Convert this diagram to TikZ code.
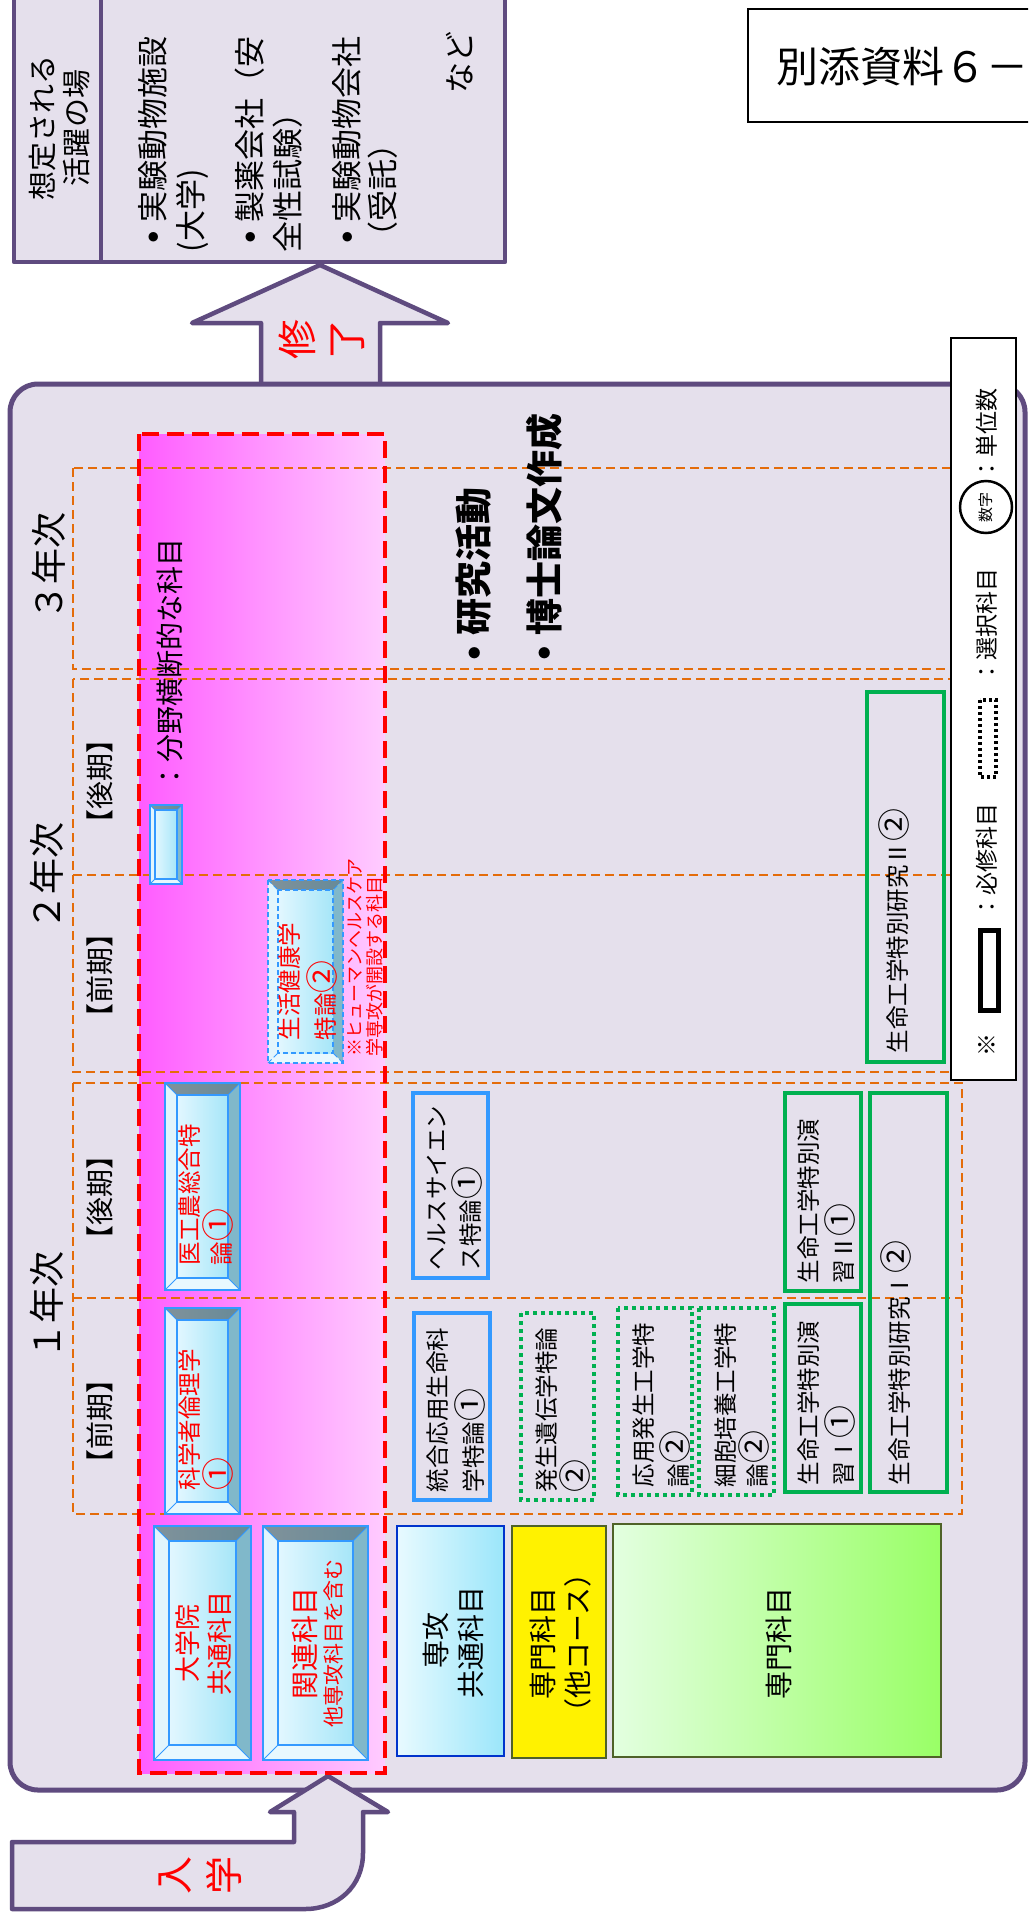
\documentclass[tikz,border=0pt]{standalone}
\usepackage{fontspec}
\setmainfont{Noto Sans CJK JP}
\definecolor{purp}{HTML}{5F4B7F}
\definecolor{lav}{HTML}{E5E0EC}
\definecolor{orng}{HTML}{E46C0A}
\definecolor{skyb}{HTML}{3399FF}
\definecolor{grn}{HTML}{00B050}
\definecolor{pinkL}{HTML}{FF5CFF}
\definecolor{pinkR}{HTML}{FFCCFF}
\definecolor{bvTopA}{HTML}{80929A}
\definecolor{bvTopB}{HTML}{678A98}
\definecolor{bvR}{HTML}{80B8CA}
\definecolor{bvL}{HTML}{E2F5FC}
\definecolor{bvBot}{HTML}{E8F8FE}
\definecolor{bvInA}{HTML}{E2F7FF}
\definecolor{bvInB}{HTML}{A6E6F8}
\definecolor{cOlive}{HTML}{4F6228}
\definecolor{dblue}{HTML}{0033CC}
\definecolor{scL}{HTML}{E8FAFF}
\definecolor{scR}{HTML}{9BE6FA}
\definecolor{gL}{HTML}{E3FFE0}
\definecolor{gM}{HTML}{A0FFA0}
\definecolor{gR}{HTML}{99FF66}
\newcommand{\fs}[1]{\fontsize{#1pt}{#1pt}\selectfont}
\newcommand{\cn}[1]{\scalebox{1.4}{#1}}
\newcommand{\bul}{\makebox[1em]{\raisebox{0.24em}{\scalebox{0.34}{●}}}}
\newcommand{\bevelbox}[6]{%
  \fill[bvL] (#1,#2) rectangle (#3,#4);
  \shade[left color=bvTopA, right color=bvTopB] (#1,#2) -- (#3,#2) -- ({#3-#5},{#2+#5}) -- ({#1+#5},{#2+#5}) -- cycle;
  \fill[bvR] (#3,#2) -- (#3,#4) -- ({#3-#5},{#4-#5}) -- ({#3-#5},{#2+#5}) -- cycle;
  \fill[bvBot] (#1,#4) -- (#3,#4) -- ({#3-#5},{#4-#5}) -- ({#1+#5},{#4-#5}) -- cycle;
  \shade[left color=bvInA, right color=bvInB] ({#1+#5},{#2+#5}) rectangle ({#3-#5},{#4-#5});
  \draw[#6] (#1,#2) rectangle (#3,#4);
  \draw[#6] ({#1+#5},{#2+#5}) rectangle ({#3-#5},{#4-#5});
  \draw[#6, line width=1pt] (#1,#2) -- ({#1+#5},{#2+#5}) (#3,#2) -- ({#3-#5},{#2+#5}) (#1,#4) -- ({#1+#5},{#4-#5}) (#3,#4) -- ({#3-#5},{#4-#5});
}
\tikzset{
  rt/.style={rotate=90, inner sep=0pt, outer sep=0pt},
  lft/.style={rt, anchor=west},
  cen/.style={rt, anchor=center},
  purpline/.style={draw=purp, line width=4.5pt, line join=round},
  orbox/.style={draw=orng, line width=2.2pt, dash pattern=on 9pt off 5pt},
  reqbox/.style={draw=skyb, line width=3.5pt},
  gdot/.style={draw=grn, line width=4pt, dash pattern=on 4pt off 4pt},
  gsol/.style={draw=grn, line width=3.5pt},
  bvborder/.style={draw=skyb, line width=2.5pt},
  bvdash/.style={draw=skyb, line width=1.5pt, dash pattern=on 5pt off 3pt},
  subj/.style={font=\fs{23.5}},
  redsubj/.style={font=\fs{23.5}, text=red},
}
\begin{document}
\begin{tikzpicture}[x=1pt,y=-1pt]
\useasboundingbox (0,0) rectangle (1028,1916);
\clip (0,0) rectangle (1028,1916);
\fill[white] (0,0) rectangle (1028,1916);

% ---- top-left box
\draw[purpline, fill=lav] (14,-10) rectangle (505,262);
\draw[purpline] (101,-10) -- (101,262);
\node[cen, font=\fs{29}] (place1) at (43,128) {想定される};
\node[cen, font=\fs{29}] (place2) at (77,128) {活躍の場};
\node[lft, font=\fs{31}] (it1a) at (153,253) {\bul 実験動物施設};
\node[lft, font=\fs{31}] (it1b) at (192,252) {(大学)};
\node[lft, font=\fs{31}] (it2a) at (250,253) {\bul 製薬会社（安};
\node[lft, font=\fs{31}] (it2b) at (288,252) {全性試験）};
\node[lft, font=\fs{31}] (it3a) at (347,253) {\bul 実験動物会社};
\node[lft, font=\fs{31}] (it3b) at (383,252) {（受託）};
\node[rt, anchor=east, font=\fs{31}] (nado) at (460,32) {など};

% ---- title
\draw[black, line width=1.5pt, fill=white] (748,9) rectangle (1040,122);
\node[anchor=west, inner sep=0pt, font=\fs{42}] (title) at (776,67) {別添資料６－};

% ---- completion arrow
\draw[purpline, fill=lav] (261,392) -- (261,323) -- (192,323) -- (320,265) -- (448,323) -- (380,323) -- (380,392);
\node[cen, font=\fs{40}, text=red] (shu1) at (297,339) {修};
\node[cen, font=\fs{40}, text=red] (shu2) at (348,339) {了};

% ---- main box
\draw[draw=purp, line width=5pt, fill=lav, rounded corners=28pt] (10,384) rectangle (1025,1790);

% ---- entrance arrow
\draw[purpline, fill=lav] (12,1842) -- (294,1842) -- (294,1812) -- (270,1812) -- (328,1776) -- (388,1812) -- (363,1812) -- (363,1853) .. controls (363,1886) and (338,1909) .. (305,1909) -- (12,1909) -- cycle;
\node[cen, font=\fs{38}, text=red] (nyu1) at (175,1875) {入};
\node[cen, font=\fs{38}, text=red] (nyu2) at (224,1875) {学};

% ---- pink cross-field area
\shade[left color=pinkL, right color=pinkR] (139,434) rectangle (385,1773);

% ---- year boxes
\draw[orbox] (73,468) rectangle (962,669);
\draw[orbox] (73,679) rectangle (962,1072);
\draw[orbox] (73,875) -- (962,875);
\draw[orbox] (73,1083) rectangle (962,1514);
\draw[orbox] (73,1298) -- (962,1298);

% ---- red dashed border
\draw[red, line width=4.5pt, dash pattern=on 17pt off 8pt] (139,434) rectangle (385,1773);

% ---- year / semester labels
\node[cen, font=\fs{36}] (y3) at (49,566) {３年次};
\node[cen, font=\fs{36}] (y2) at (47,876) {２年次};
\node[cen, font=\fs{36}] (y1) at (47,1305) {１年次};
\node[cen, font=\fs{28}] (s2b) at (100,781) {【後期】};
\node[cen, font=\fs{28}] (s2a) at (100,975) {【前期】};
\node[cen, font=\fs{28}] (s1b) at (100,1197) {【後期】};
\node[cen, font=\fs{28}] (s1a) at (100,1421) {【前期】};

% ---- cross-field legend
\bevelbox{150}{805}{182}{884}{5}{draw=skyb, line width=1.5pt}
\node[lft, font=\fs{28}] (bunya) at (170,790) {：分野横断的な科目};

% ---- bevel subject boxes
\bevelbox{165}{1308}{240}{1514}{12}{bvborder}
\node[lft, redsubj] (kagaku1) at (190,1490) {科学者倫理学};
\node[lft, redsubj] (kagaku2) at (218,1490) {\cn{①}};

\bevelbox{165}{1083}{240}{1290}{12}{bvborder}
\node[lft, redsubj] (ikou1) at (190,1265) {医工農総合特};
\node[lft, redsubj] (ikou2) at (218,1265) {論\cn{①}};

\bevelbox{154}{1526}{251}{1760}{15}{bvborder}
\node[cen, font=\fs{26}, text=red] (daigaku1) at (188,1643) {大学院};
\node[cen, font=\fs{26}, text=red] (daigaku2) at (220,1643) {共通科目};

\bevelbox{263}{1526}{368}{1760}{15}{bvborder}
\node[cen, font=\fs{28}, text=red] (kanren1) at (305,1643) {関連科目};
\node[cen, font=\fs{21}, text=red] (kanren2) at (334,1643) {他専攻科目を含む};

\bevelbox{268}{880}{343}{1063}{10}{bvdash}
\node[lft, redsubj] (seikatsu1) at (290,1040) {生活健康学};
\node[lft, redsubj] (seikatsu2) at (322,1040) {特論\cn{②}};
\node[lft, font=\fs{18}, text=red] (note1) at (355,1056) {※ヒューマンヘルスケア};
\node[lft, font=\fs{18}, text=red] (note2) at (375,1056) {学専攻が開設する科目};

% ---- research activity
\node[lft, font=\fs{37}\bfseries] (res1) at (474,672) {\bul 研究活動};
\node[lft, font=\fs{37}\bfseries] (res2) at (544,672) {\bul 博士論文作成};

% ---- required (blue) boxes
\draw[reqbox] (414,1313) rectangle (490,1500);
\node[lft, subj] (tougou1) at (438,1492) {統合応用生命科};
\node[lft, subj] (tougou2) at (470,1492) {学特論\cn{①}};
\draw[reqbox] (413,1093) rectangle (488,1278);
\node[lft, subj] (health1) at (437,1270) {ヘルスサイエン};
\node[lft, subj] (health2) at (467,1270) {ス特論\cn{①}};

% ---- elective (green dotted) boxes
\draw[gdot] (521,1313) rectangle (594,1500);
\node[lft, subj] (hassei1) at (547,1492) {発生遺伝学特論};
\node[lft, subj] (hassei2) at (575,1492) {\cn{②}};
\draw[gdot] (618,1308) rectangle (692,1495);
\node[lft, subj] (ouyou1) at (644,1487) {応用発生工学特};
\node[lft, subj] (ouyou2) at (675,1487) {論\cn{②}};
\draw[gdot] (699,1308) rectangle (774,1495);
\node[lft, subj] (saibou1) at (726,1487) {細胞培養工学特};
\node[lft, subj] (saibou2) at (754,1487) {論\cn{②}};

% ---- green solid boxes
\draw[gsol] (785,1304) rectangle (861,1492);
\node[lft, subj] (enshu1a) at (809,1485) {生命工学特別演};
\node[lft, subj] (enshu1b) at (840,1485) {習Ⅰ\cn{①}};
\draw[gsol] (785,1093) rectangle (861,1291);
\node[lft, subj] (enshu2a) at (809,1283) {生命工学特別演};
\node[lft, subj] (enshu2b) at (840,1283) {習Ⅱ\cn{①}};
\draw[gsol] (870,1093) rectangle (947,1492);
\node[lft, subj] (kenkyu1) at (896,1485) {生命工学特別研究Ⅰ\cn{②}};
\draw[gsol] (867,692) rectangle (944,1062);
\node[lft, subj] (kenkyu2) at (894,1053) {生命工学特別研究Ⅱ\cn{②}};

% ---- bottom category boxes
\shade[left color=scL, right color=scR] (397,1526) rectangle (504,1756);
\draw[dblue, line width=2.5pt] (397,1526) rectangle (504,1756);
\node[cen, font=\fs{28}] (senkou1) at (436,1640) {専攻};
\node[cen, font=\fs{28}] (senkou2) at (471,1642) {共通科目};

\draw[cOlive, line width=2.5pt, fill=yellow] (512,1526) rectangle (606,1758);
\node[cen, font=\fs{28}] (tacourse1) at (543,1643) {専門科目};
\node[cen, font=\fs{28}] (tacourse2) at (578,1643) {（他コース）};

\shade[left color=gL, middle color=gM, right color=gR] (613,1524) rectangle (941,1757);
\draw[cOlive, line width=2.5pt] (613,1524) rectangle (941,1757);
\node[cen, font=\fs{28}] (senmon) at (779,1643) {専門科目};

% ---- legend
\draw[black, line width=2pt, fill=white] (951,338) rectangle (1016,1080);
\node[cen, font=\fs{23}] (kome) at (987,1045) {※};
\draw[black, line width=5pt] (980,930) rectangle (998,1010);
\node[lft, font=\fs{23}] (hisshu) at (987,918) {：必修科目};
\draw[black, line width=4pt, dash pattern=on 3pt off 3pt] (980,700) rectangle (996,777);
\node[lft, font=\fs{23}] (sentaku) at (987,683) {：選択科目};
\node[rt, draw=black, line width=2.5pt, circle, minimum size=52pt, font=\fs{15}] (suji) at (986,507) {数字};
\node[lft, font=\fs{23}] (tani) at (987,480) {：単位数};
\end{tikzpicture}
\end{document}
